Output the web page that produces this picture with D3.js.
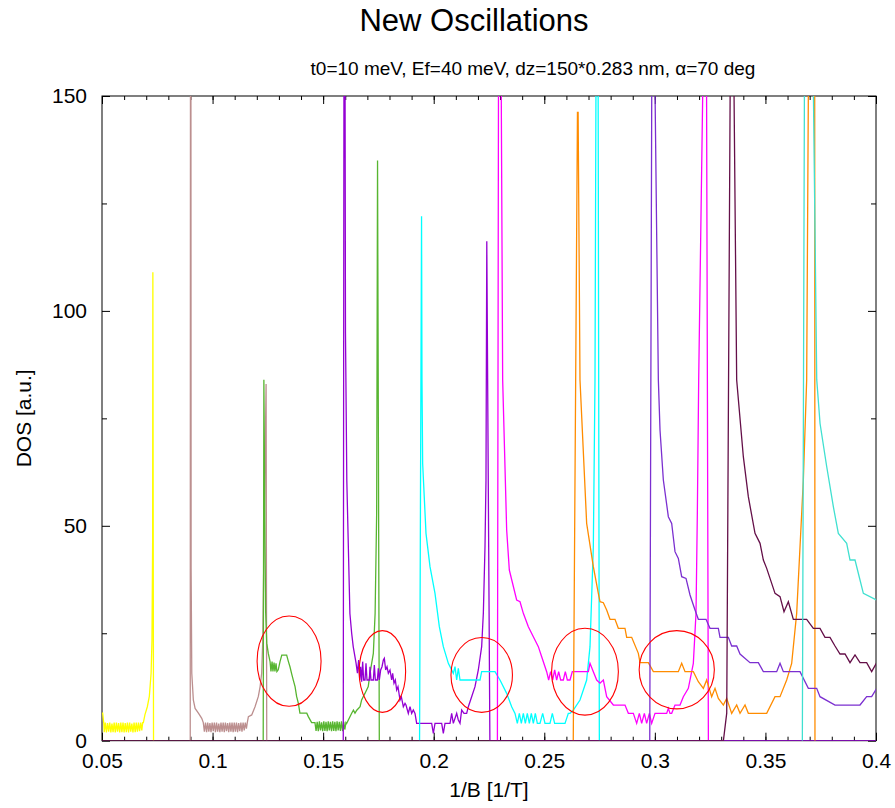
<!DOCTYPE html>
<html>
<head>
<meta charset="utf-8">
<script src="https://cdn.jsdelivr.net/npm/d3@7"></script>
<style>
body { margin: 0; background: #fff; }
svg { display: block; font-family: "Liberation Sans", Arial, sans-serif; }
</style>
</head>
<body>
<svg id="chart" width="895" height="808"></svg>
<script>
// tick values / labels
const xTicks = [0.05, 0.1, 0.15, 0.2, 0.25, 0.3, 0.35, 0.4];
const xTickLabels = ["0.05", "0.1", "0.15", "0.2", "0.25", "0.3", "0.35", "0.4"];
const yTicks = [0, 50, 100, 150];
const yMinor = [25, 75, 125];

// series, [1/B, DOS]
const yellowDos = [[0.0500,6.4],[0.0503,6.4],[0.0508,4.1],
  [0.0510,2.0],[0.0515,4.2],[0.0520,1.9],[0.0525,4.1],[0.0530,2.1],[0.0535,4.2],[0.0540,1.9],[0.0545,4.0],
  [0.0550,2.0],[0.0555,4.2],[0.0560,1.9],[0.0565,4.2],[0.0570,2.1],[0.0575,4.1],[0.0580,1.9],[0.0585,4.2],
  [0.0590,2.0],[0.0595,4.2],[0.0600,1.9],[0.0605,4.1],[0.0610,2.0],[0.0615,4.2],[0.0620,1.9],[0.0625,4.2],
  [0.0630,2.1],[0.0635,4.0],[0.0640,1.9],[0.0645,4.2],[0.0650,2.0],[0.0655,4.2],[0.0660,2.1],[0.0665,4.2],
  [0.0670,2.2],[0.0675,4.2],[0.0680,2.4],[0.0684,4.2],
  [0.0687,4.2],[0.0694,6.0],[0.0705,7.9],[0.0714,10.3],[0.0722,15.7],[0.0726,23.4],[0.0729,46.7],[0.0730,109],[0.0733,0]];

const rosyDos = [[0.0899,0],[0.0901,300],[0.0903,40],[0.0906,15.7],[0.0913,9.5],[0.0921,7.5],[0.0936,6.4],[0.0951,5.2],[0.0958,4.2],
  [0.0963,2.1],[0.0968,4.2],[0.0973,2.0],[0.0978,4.2],[0.0983,2.1],[0.0988,4.1],[0.0993,2.0],[0.0998,4.2],
  [0.1003,2.2],[0.1008,4.2],[0.1013,2.0],[0.1018,4.2],[0.1023,2.1],[0.1028,4.0],[0.1033,2.0],[0.1038,4.2],
  [0.1043,2.1],[0.1048,4.2],[0.1053,2.0],[0.1058,4.2],[0.1063,2.2],[0.1068,4.1],[0.1073,2.0],[0.1078,4.2],
  [0.1083,2.1],[0.1088,4.2],[0.1093,2.0],[0.1098,4.2],[0.1103,2.1],[0.1108,4.2],[0.1113,2.0],[0.1118,4.1],
  [0.1123,2.2],[0.1128,4.2],[0.1133,2.1],[0.1138,4.2],[0.1143,2.4],[0.1148,4.2],[0.1153,2.8],
  [0.1157,4.2],[0.1162,5.6],[0.1177,6.0],[0.1192,7.9],[0.1207,10.3],[0.1215,12.6],[0.1222,15.7],[0.1227,23.4],[0.1242,83],[0.1245,0]];

const greenDos = [[0.1229,0],[0.1232,84],[0.1237,46.7],[0.1240,30],[0.1245,22.7],[0.1252,20.3],[0.1260,18.4],
  [0.1264,16.1],[0.1269,18.4],[0.1273,16.1],[0.1278,18.2],[0.1282,16.1],[0.1287,18.0],[0.1291,16.1],[0.1297,16.5],
  [0.1305,18.4],[0.1313,19.9],[0.1335,19.9],[0.1343,18.4],[0.1350,17.2],[0.1358,15.5],[0.1365,14.1],[0.1373,12.6],
  [0.1380,10.3],[0.1388,8.7],[0.1395,6.4],[0.1426,6.4],[0.1433,5.6],[0.1448,4.2],[0.1463,4.2],
  [0.1468,2.3],[0.1473,4.4],[0.1478,2.2],[0.1483,4.5],[0.1488,2.4],[0.1493,4.3],[0.1498,2.2],[0.1503,4.5],
  [0.1508,2.3],[0.1513,4.4],[0.1518,2.2],[0.1523,4.5],[0.1528,2.4],[0.1533,4.4],[0.1538,2.2],[0.1543,4.5],
  [0.1548,2.3],[0.1553,4.4],[0.1558,2.2],[0.1563,4.5],[0.1568,2.4],[0.1573,4.4],[0.1578,2.3],[0.1583,4.5],
  [0.1588,2.2],[0.1593,4.4],[0.1598,2.6],[0.1603,4.2],
  [0.1606,4.0],[0.1629,6.4],[0.1637,7.1],[0.1644,6.4],[0.1652,7.1],[0.1667,7.9],[0.1674,9.5],[0.1689,11.0],
  [0.1704,12.6],[0.1712,15.7],[0.1727,20.3],[0.1735,29.6],[0.1742,52.9],[0.1746,135],[0.1754,0]];

const violetDos = [[0.1591,0],[0.1596,250],[0.1601,95],[0.1607,60.6],[0.1614,45],[0.1621,29.6],[0.1629,25],[0.1636,21.9],
  [0.1649,18],[0.1655,15.7],
  [0.16561,16.45],[0.16606,18.77],[0.16652,14.12],[0.16697,17.22],[0.16742,13.73],[0.16787,18.39],[0.16832,14.12],
  [0.16893,14.12],[0.16938,18.0],[0.16983,14.12],[0.17089,14.12],[0.17119,17.22],[0.17164,14.12],[0.17270,14.12],
  [0.17315,17.61],[0.17360,14.12],[0.17451,14.12],[0.17496,16.84],[0.17541,14.12],[0.17601,16.45],[0.17662,17.22],
  [0.17722,18.77],[0.17767,19.16],[0.17827,16.45],[0.17888,17.22],[0.17948,15.67],[0.18023,16.45],[0.18099,14.12],
  [0.18144,15.67],[0.18204,13.35],[0.18264,14.12],[0.18325,11.79],[0.18385,12.57],[0.18476,9.47],[0.18536,10.24],
  [0.18626,7.91],[0.18702,8.69],[0.18747,8.30],[0.18852,6.36],[0.18928,7.91],[0.19003,6.36],[0.19078,7.14],
  [0.19154,6.36],[0.19229,4.04],[0.19908,4.04],[0.19983,1.70],[0.20058,4.04],[0.20360,4.04],[0.20435,1.70],
  [0.20510,4.04],[0.20737,4.04],[0.20812,6.36],[0.20887,4.04],[0.21038,6.36],[0.21113,4.81],[0.21189,4.04],
  [0.21264,7.14],[0.21370,6.36],[0.21490,6.36],[0.21565,7.91],[0.21716,10.24],[0.21867,12.57],[0.22017,16.45],
  [0.22168,21.88],[0.22244,29.63],[0.22319,45.14],[0.22364,60.65],[0.2240,116.2],[0.2254,0],[0.4,0]];

const cyanDos = [[0.1936,0],[0.1945,122],[0.1947,84],[0.1950,64.5],[0.19651,48.24],[0.19832,40.49],[0.20058,34.28],
  [0.20254,26.53],[0.20435,21.88],[0.20661,18.0],[0.20887,15.67],[0.20963,17.22],[0.21038,14.12],[0.21113,16.84],
  [0.21189,14.12],[0.22093,14.12],[0.22168,16.06],[0.22771,16.06],[0.22997,14.12],[0.23299,11.02],[0.23525,7.91],
  [0.23676,6.36],[0.23781,4.04],[0.23872,6.36],[0.23962,4.04],[0.24053,6.36],[0.24143,4.04],[0.24233,6.36],
  [0.24324,4.04],[0.24414,6.36],[0.24505,4.04],[0.24595,6.36],[0.24686,4.04],[0.24806,4.04],[0.24927,6.36],
  [0.25032,4.04],[0.25258,4.04],[0.25364,6.36],[0.25469,4.04],[0.25937,4.04],[0.26087,6.36],[0.26163,6.36],
  [0.26314,7.14],[0.26615,9.47],[0.26916,14.12],[0.27067,21.88],[0.27218,45.14],[0.27293,83.92],[0.2740,250],[0.2749,0]];

const magentaDos = [[0.2288,0],[0.2296,250],[0.23118,83.92],[0.23299,49.02],[0.23419,39.71],[0.23751,32.73],
  [0.23902,32.34],[0.24053,29.63],[0.24279,26.53],[0.24505,24.2],[0.24731,21.88],[0.24882,19.55],[0.25108,16.06],
  [0.25198,14.12],[0.25288,16.06],[0.25379,14.12],[0.25469,16.45],[0.25560,14.12],[0.25650,16.06],[0.25741,14.12],
  [0.25861,14.12],[0.25951,16.06],[0.26042,14.12],[0.26163,14.12],[0.26268,16.06],[0.26992,16.06],[0.27067,18.0],
  [0.27218,16.06],[0.27369,14.12],[0.2752,13.4],[0.27671,14.12],[0.27821,10.24],[0.28123,8.3],[0.2865,8.3],
  [0.28801,6.36],[0.29027,6.36],[0.29178,4.04],[0.29299,6.36],[0.29404,4.04],[0.29525,6.36],[0.29630,4.04],
  [0.29751,6.36],[0.29856,4.04],[0.30007,6.36],[0.30535,6.36],[0.30610,7.53],[0.30685,6.36],[0.30761,6.36],
  [0.30911,8.3],[0.31138,8.3],[0.31288,10.24],[0.31514,12.18],[0.31740,18.0],[0.31861,29.63],[0.31921,52.9],
  [0.31982,83.92],[0.3231,204],[0.3242,0]];

const orangeDos = [[0.2631,0],[0.2650,146.2],[0.2653,146.2],[0.26615,83.92],[0.26916,50.57],[0.27218,40.49],
  [0.27444,34.28],[0.27520,32.34],[0.27671,32.1],[0.27821,30.41],[0.27972,28.24],[0.28198,28.24],[0.28349,26.14],
  [0.28650,26.14],[0.28726,24.05],[0.28952,24.05],[0.29253,20.32],[0.29329,18.15],[0.29706,18.15],[0.29932,16.06],
  [0.31062,16.06],[0.31213,18.0],[0.31364,16.06],[0.31740,16.06],[0.31966,13.73],[0.32193,12.18],[0.32343,14.12],
  [0.32569,10.24],[0.32720,12.18],[0.32871,9.85],[0.33097,8.30],[0.33248,9.85],[0.33474,6.36],[0.33700,8.30],
  [0.33851,6.36],[0.34077,8.30],[0.34227,6.36],[0.35057,6.36],[0.35433,10.24],[0.35660,10.24],[0.35961,14.12],
  [0.36187,18.0],[0.36413,29.63],[0.36564,45.14],[0.36715,60.65],[0.36865,83.92],[0.3721,388],[0.3724,0]];

const blueVioletDos = [[0.2977,0],[0.2989,204],[0.30158,83.92],[0.30233,72.29],[0.30384,60.65],[0.30610,52.12],
  [0.30761,50.57],[0.30911,43.98],[0.31062,42.43],[0.31213,38.16],[0.31409,37.77],[0.31590,33.9],[0.31816,30.41],
  [0.31966,28.24],[0.32313,28.24],[0.32494,26.14],[0.32871,26.14],[0.32946,24.05],[0.33323,24.05],[0.33474,22.03],
  [0.33700,22.03],[0.33851,20.17],[0.34303,18.15],[0.34680,18.15],[0.34906,16.06],[0.35509,16.06],[0.35660,18.0],
  [0.35811,16.06],[0.36564,16.06],[0.36941,12.18],[0.37318,12.18],[0.37468,10.24],[0.38146,8.30],[0.39277,8.30],
  [0.39578,10.24],[0.39804,10.24],[0.40031,12.18]];

const maroonDos = [[0.05,0],[0.3310,0],[0.3325,6.4],[0.3347,212],[0.3370,83.92],[0.34001,66.08],[0.34227,56.77],
  [0.34529,48.24],[0.34756,45.92],[0.34906,42.04],[0.35057,40.1],[0.35283,36.61],[0.35434,34.28],[0.35660,33.51],
  [0.35840,30.02],[0.36036,32.34],[0.36262,28.24],[0.36865,28.24],[0.37167,26.14],[0.37468,26.14],[0.37694,24.05],
  [0.37920,24.05],[0.38146,22.03],[0.38373,20.17],[0.38599,20.17],[0.38825,18.15],[0.39051,19.94],[0.39277,18.15],
  [0.39578,18.15],[0.39804,16.06],[0.40031,18.15]];

const turquoiseDos = [[0.3667,0],[0.3685,292],[0.3732,84],[0.3747,73.8],[0.3777,63.8],[0.38071,54.45],[0.38297,48.24],
  [0.38674,45.92],[0.38825,42.04],[0.39051,42.04],[0.39277,37.39],[0.39428,34.28],[0.40031,32.73]];

// red marks: centre x, centre y, half width, half height (data units)
const circles = [[0.1346,18.5,0.01447,10.5],[0.1768,16.1,0.0105,9.5],[0.2217,15.3,0.0139,8.7],
  [0.2684,16.05,0.0151,10.1],[0.3099,16.5,0.017,9.1]];

const series = [
  {data: yellowDos, color: "#ffff00"},
  {data: rosyDos, color: "#bc8f8f"},
  {data: greenDos, color: "#57b530"},
  {data: violetDos, color: "#9400d3"},
  {data: cyanDos, color: "#00ffff"},
  {data: magentaDos, color: "#ff00ff"},
  {data: orangeDos, color: "#ff8c00"},
  {data: blueVioletDos, color: "#7b2fd0"},
  {data: maroonDos, color: "#640f48"},
  {data: turquoiseDos, color: "#40e0d0"}
];

const mLeft = 102, mRight = 876, mTop = 96, mBottom = 740.7;
const x = d3.scaleLinear().domain([0.05, 0.4]).range([mLeft, mRight]);
const y = d3.scaleLinear().domain([0, 150]).range([mBottom, mTop]);

const svg = d3.select("#chart");

svg.append("defs").append("clipPath").attr("id", "plotclip")
  .append("rect").attr("x", mLeft).attr("y", mTop)
  .attr("width", mRight - mLeft).attr("height", mBottom - mTop);

// ticks (inward, mirrored)
function styleAxis(g) {
  g.select(".domain").remove();
  g.selectAll(".tick line").attr("stroke", "#000").attr("stroke-width", 1);
  g.selectAll(".tick text").attr("fill", "#000").style("font-size", "21px")
    .style("font-family", '"Liberation Sans", Arial, sans-serif');
}

const xMinor = x.ticks(35);

svg.append("g").attr("transform", `translate(0,${mBottom})`)
  .call(d3.axisBottom(x).tickValues(xMinor).tickSize(-4).tickFormat(""))
  .call(styleAxis);
svg.append("g").attr("transform", `translate(0,${mTop})`)
  .call(d3.axisTop(x).tickValues(xMinor).tickSize(-4).tickFormat(""))
  .call(styleAxis);
svg.append("g").attr("transform", `translate(0,${mBottom})`)
  .call(d3.axisBottom(x).tickValues(xTicks).tickSize(-8).tickPadding(12)
    .tickFormat((d, i) => xTickLabels[i]))
  .call(styleAxis);
svg.append("g").attr("transform", `translate(0,${mTop})`)
  .call(d3.axisTop(x).tickValues(xTicks).tickSize(-8).tickFormat(""))
  .call(styleAxis);

svg.append("g").attr("transform", `translate(${mLeft},0)`)
  .call(d3.axisLeft(y).tickValues(yMinor).tickSize(-5).tickFormat(""))
  .call(styleAxis);
svg.append("g").attr("transform", `translate(${mRight},0)`)
  .call(d3.axisRight(y).tickValues(yMinor).tickSize(-5).tickFormat(""))
  .call(styleAxis);
svg.append("g").attr("transform", `translate(${mLeft},0)`)
  .call(d3.axisLeft(y).tickValues(yTicks).tickSize(-8).tickPadding(15).tickFormat(d3.format("d")))
  .call(styleAxis);
svg.append("g").attr("transform", `translate(${mRight},0)`)
  .call(d3.axisRight(y).tickValues(yTicks).tickSize(-8).tickFormat(""))
  .call(styleAxis);

// frame
svg.append("rect")
  .attr("x", mLeft).attr("y", mTop)
  .attr("width", mRight - mLeft).attr("height", mBottom - mTop)
  .attr("fill", "none").attr("stroke", "#000").attr("stroke-width", 1);

// curves
const line = d3.line().x(d => x(d[0])).y(d => y(d[1]));
const plot = svg.append("g").attr("clip-path", "url(#plotclip)");
plot.selectAll(".dos")
  .data(series)
  .join("path")
  .attr("class", "dos")
  .attr("d", d => line(d.data))
  .attr("fill", "none")
  .attr("stroke", d => d.color)
  .attr("stroke-width", 1.3)
  .attr("stroke-linejoin", "miter");

// red ellipses
svg.selectAll(".mark")
  .data(circles)
  .join("ellipse")
  .attr("class", "mark")
  .attr("cx", d => x(d[0]))
  .attr("cy", d => y(d[1]))
  .attr("rx", d => x(d[0] + d[2]) - x(d[0]))
  .attr("ry", d => y(d[1] - d[3]) - y(d[1]))
  .attr("fill", "none")
  .attr("stroke", "#ff0000")
  .attr("stroke-width", 1.1);

// titles
svg.append("text").attr("x", 474).attr("y", 31)
  .attr("text-anchor", "middle").style("font-size", "31px")
  .text("New Oscillations");
svg.append("text").attr("x", 533).attr("y", 75)
  .attr("text-anchor", "middle").style("font-size", "19px")
  .text("t0=10 meV, Ef=40 meV, dz=150*0.283 nm, α=70 deg");
svg.append("text").attr("x", (mLeft + mRight) / 2).attr("y", 797)
  .attr("text-anchor", "middle").style("font-size", "21px")
  .text("1/B [1/T]");
svg.append("text")
  .attr("transform", `translate(31,${(mTop + mBottom) / 2}) rotate(-90)`)
  .attr("text-anchor", "middle").style("font-size", "21px")
  .text("DOS [a.u.]");
</script>
</body>
</html>
